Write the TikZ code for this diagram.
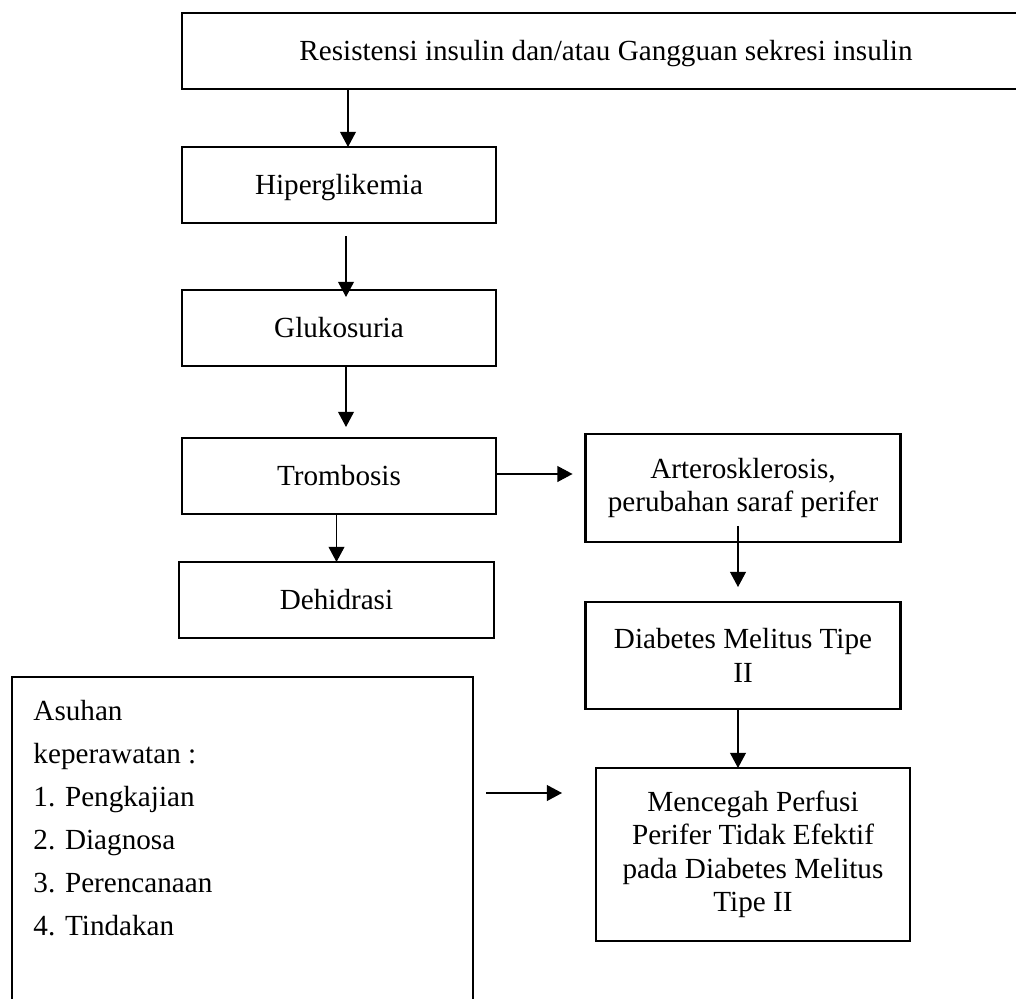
\documentclass[tikz,border=0pt]{standalone}
\usepackage{fontspec}
\setmainfont{Liberation Serif}
\usetikzlibrary{arrows.meta,calc}
\begin{document}
\begin{tikzpicture}[x=0.4115pt,y=-0.4115pt,
  box/.style={draw,line width=0.9pt,inner sep=0pt,outer sep=0pt,font=\fontsize{12}{13.8}\selectfont},
  one/.style={text height=7.9pt,text depth=0pt},
  mbox/.style={box,align=center},
  arr/.style={draw,line width=0.5pt,-{Triangle[length=6.2pt,width=6.5pt]}}]
\useasboundingbox (0,0) rectangle (1016,999);

\node[box,one,minimum width=349pt,minimum height=31.3pt] (top) at (606,51) {Resistensi insulin dan/atau Gangguan sekresi insulin};
\node[box,one,minimum width=129.2pt,minimum height=31.3pt] (hiper) at (339,185) {Hiperglikemia};
\node[box,one,minimum width=129.2pt,minimum height=31.3pt] (gluko) at (339,328) {Glukosuria};
\node[box,one,minimum width=129.2pt,minimum height=31.3pt] (tromb) at (339,476) {Trombosis};
\node[box,one,minimum width=129.6pt,minimum height=31.3pt] (dehid) at (336.5,600) {Dehidrasi};
\node[mbox,minimum width=129.6pt,minimum height=44.4pt] (artero) at (743,488) {Arterosklerosis,\\perubahan saraf perifer};
\node[mbox,minimum width=129.6pt,minimum height=44pt] (diab) at (743,655.5) {Diabetes Melitus Tipe\\II};
\node[mbox,minimum width=129.2pt,minimum height=71.2pt] (menc) at (753,854.5) {Mencegah Perfusi\\Perifer Tidak Efektif\\pada Diabetes Melitus\\Tipe II};
\node[draw,line width=0.9pt,inner sep=0pt,outer sep=0pt,minimum width=189.7pt,minimum height=139.9pt] (asuhan) at (242.5,847) {};
\node[font=\fontsize{12}{17.7}\selectfont,align=left,anchor=north west,inner sep=0pt] (asuhantext) at (33,700) {Asuhan\\keperawatan :\\1. Pengkajian\\2. Diagnosa\\3. Perencanaan\\4. Tindakan};

\draw[arr] ($(top.south -| hiper.north)+(9,0)$) -- ($(hiper.north)+(9,0)$);
\draw[arr] ($(hiper.south)+(7,13)$) -- ($(gluko.north)+(7,7)$);
\draw[arr] ($(gluko.south)+(7,0)$) -- ($(tromb.north)+(7,-11)$);
\draw[arr] (tromb.south -| dehid.north) -- (dehid.north);
\draw[arr] ($(tromb.east)+(0,-2)$) -- ($(artero.west)+(-13,-14)$);
\draw[arr] ($(artero.south)+(-5,-16)$) -- ($(diab.north)+(-5,-15)$);
\draw[arr] ($(diab.south)+(-5,0)$) -- ($(menc.north -| diab.south)+(-5,0)$);
\draw[arr] ($(asuhan.east)+(13,-54)$) -- ($(menc.west)+(-34,-61.5)$);
\end{tikzpicture}
\end{document}
